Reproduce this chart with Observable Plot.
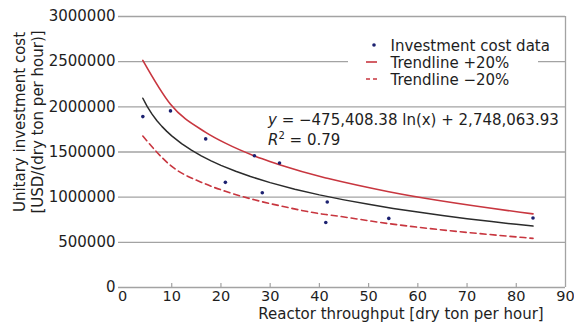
<!DOCTYPE html>
<html><head><meta charset="utf-8">
<script src="https://cdn.jsdelivr.net/npm/d3@7"></script>
<script src="https://cdn.jsdelivr.net/npm/@observablehq/plot@0.6"></script>
<style>body{margin:0;background:#fff}#chart{width:574px;height:327px}</style>
</head><body><div id="chart"></div>
<script>
// Data
const throughput = [4.13, 9.75, 16.9, 20.9, 26.8, 28.4, 31.9, 41.3, 41.6, 54.1, 83.4];
const investmentCost = [1892000, 1955000, 1645000, 1164000, 1459000, 1049000, 1379000, 720000, 946000, 765000, 769000];
const trendPlus20 = [2514000, 2028000, 1718000, 1598000, 1457000, 1424000, 1359000, 1213000, 1209000, 1060000, 815000];
const trendMinus20 = [1676000, 1352000, 1145000, 1065000, 971000, 949000, 906000, 808000, 806000, 707000, 544000];
const trendX = [4.13, 5, 6, 7, 8, 9, 10, 12, 14, 16, 18, 20, 23, 26, 30, 35, 40, 45, 50, 55, 60, 65, 70, 75, 80, 83.4];
const trendY = [2095000, 2005000, 1919100, 1846500, 1783600, 1728100, 1678500, 1592600, 1520000, 1457100, 1401600, 1352000, 1286200, 1228400, 1161000, 1088500, 1025500, 970100, 920400, 875600, 834600, 796900, 762000, 729500, 699100, 679500];
const xTicks = [0, 10, 20, 30, 40, 50, 60, 70, 80, 90];
const yTicks = [0, 500000, 1000000, 1500000, 2000000, 2500000, 3000000];
const legendLabels = ["Investment cost data", "Trendline +20%", "Trendline \u221220%"];
const equationText = " = \u2212475,408.38 ln(x) + 2,748,063.93";
const r2Text = " = 0.79";
const xTitle = "Reactor throughput [dry ton per hour]";
const yTitle = "Unitary investment cost\n[USD/(dry ton per hour)]";

const FONT = "DejaVu Sans, Verdana, sans-serif";
const TEXT = "#1e1e1e";
const GRID = "#a3a3a3";
const RED = "#c8363f";
const BLACK = "#2b2b2b";
const NAVY = "#1c2170";

const chart = Plot.plot({
  width: 574, height: 327,
  marginLeft: 122, marginRight: 9, marginTop: 16, marginBottom: 40,
  style: {fontFamily: FONT, fontSize: "15px", color: TEXT, background: "white", overflow: "visible"},
  x: {domain: [0, 90]},
  y: {domain: [0, 3000000]},
  marks: [
    Plot.ruleY(yTicks, {y: d => d, stroke: GRID, strokeWidth: 1.3, insetLeft: -4}),
    Plot.ruleX([90], {x: d => d, stroke: GRID, strokeWidth: 1.3}),
    Plot.tickX(xTicks.slice(1, -1), {x: d => d, stroke: GRID, strokeWidth: 1.2, insetTop: 267}),
    Plot.axisY(yTicks, {tickSize: 0, tickPadding: 7, tickFormat: d3.format("d"), label: null, fill: TEXT}),
    Plot.axisX(xTicks, {tickSize: 0, tickPadding: 3, tickFormat: d3.format("d"), label: null, fill: TEXT, fontSize: 14.5}),
    Plot.line(trendX, {x: trendX, y: trendY, stroke: BLACK, strokeWidth: 1.5}),
    Plot.line(throughput, {x: throughput, y: trendPlus20, stroke: RED, strokeWidth: 1.6, curve: "monotone-x"}),
    Plot.line(throughput, {x: throughput, y: trendMinus20, stroke: RED, strokeWidth: 1.6, strokeDasharray: "6,4", curve: "monotone-x"}),
    Plot.dot(throughput, {x: throughput, y: investmentCost, r: 1.8, fill: NAVY, stroke: null}),
    Plot.text([xTitle], {text: d => d, frameAnchor: "bottom", textAnchor: "middle", lineAnchor: "middle", dx: 57, dy: 27, fill: TEXT}),
    Plot.text([yTitle], {text: d => d, frameAnchor: "left", textAnchor: "middle", lineAnchor: "middle", rotate: -90, dx: -94, dy: -30, lineHeight: 1.2, fill: TEXT})
  ]
});
document.getElementById("chart").appendChild(chart);

// Legend and equation annotations
const svg = d3.select(chart);
const g = svg.append("g").attr("font-family", FONT).attr("font-size", 15).attr("fill", TEXT).attr("text-anchor", "start");
g.append("rect").attr("x", 348).attr("y", 37).attr("width", 190).attr("height", 50).attr("fill", "white");
g.append("circle").attr("cx", 374).attr("cy", 45).attr("r", 1.8).attr("fill", NAVY);
g.append("line").attr("x1", 366).attr("x2", 377).attr("y1", 62).attr("y2", 62).attr("stroke", RED).attr("stroke-width", 1.6);
g.append("line").attr("x1", 366).attr("x2", 377).attr("y1", 79).attr("y2", 79).attr("stroke", RED).attr("stroke-width", 1.6).attr("stroke-dasharray", "4,3");
legendLabels.forEach((t, i) => {
  g.append("text").attr("x", 390.5).attr("y", 50.5 + 17 * i).text(t);
});
const eq = g.append("text").attr("x", 268).attr("y", 125);
eq.append("tspan").attr("font-style", "italic").text("y");
eq.append("tspan").text(equationText);
const r2 = g.append("text").attr("x", 268).attr("y", 145);
r2.append("tspan").attr("font-style", "italic").text("R");
r2.append("tspan").attr("font-size", 10).attr("dy", -6).text("2");
r2.append("tspan").attr("dy", 6).text(r2Text);
</script>
</body></html>
